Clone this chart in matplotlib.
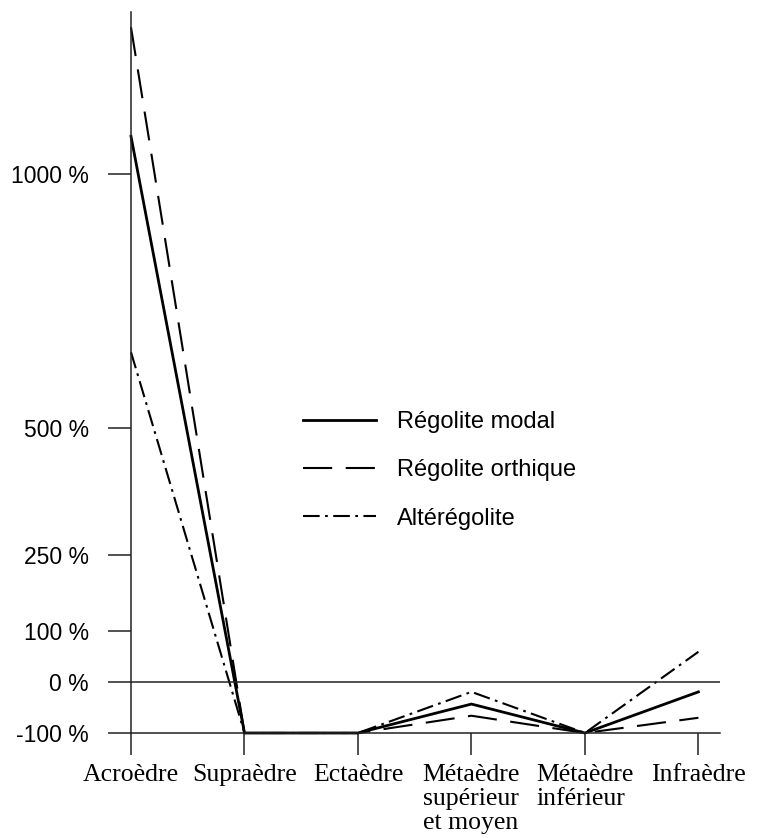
import matplotlib.pyplot as plt

# horizons (x) et variation en % pour chaque type de régolite
horizons = ['Acroèdre', 'Supraèdre', 'Ectaèdre', 'Métaèdre\nsupérieur\net moyen',
            'Métaèdre\ninférieur', 'Infraèdre']
modal = [1075, -100, -100, -43, -100, -19]
orthique = [1290, -100, -100, -66, -100, -70]
altere = [650, -100, -100, -19, -100, 60]
yticks = [-100, 0, 100, 250, 500, 1000]
ylabels = ['-100 %', '0 %', '100 %', '250 %', '500 %', '1000 %']

fig = plt.figure(figsize=(7.59, 8.38), dpi=100)
ax = fig.add_axes([131/759, 1-733/838, (720-131)/759, (733-12)/838])

x = list(range(len(horizons)))
ax.plot(x, modal, color='black', lw=2.0, label='Régolite modal', clip_on=False)
ax.plot(x, orthique, color='black', lw=1.5, dashes=(14, 6.5),
        label='Régolite orthique', clip_on=False)
ax.plot(x, altere, color='black', lw=1.5, dashes=(8, 2.6, 1.3, 2.6),
        label='Altérégolite', clip_on=False)
ax.axhline(0, color='#222222', lw=1.1)

ax.set_xlim(0, 5.19)
ax.set_ylim(-100, 1320)
for s in ['top', 'right']:
    ax.spines[s].set_visible(False)
for s in ['left', 'bottom']:
    ax.spines[s].set_color('#222222')
    ax.spines[s].set_linewidth(1.1)

ax.set_yticks(yticks)
ax.set_yticklabels(ylabels, fontsize=16.5, family='Liberation Sans')
ax.tick_params(axis='y', length=16.5, width=1.1, color='#222222', pad=14)
ax.set_xticks(x)
ax.set_xticklabels(horizons, fontsize=18.5, family='Liberation Serif',
                   multialignment='left', linespacing=1.12)
ax.tick_params(axis='x', length=16, width=1.1, color='#222222', pad=6)

leg = ax.legend(loc='upper left', bbox_to_anchor=(291/759, 1-399/838),
                bbox_transform=fig.transFigure, frameon=False, borderpad=0,
                handlelength=3.1, handletextpad=0.9, labelspacing=1.12,
                prop={'family': 'Liberation Sans', 'size': 17})

fig.savefig('out.png', dpi=100)
